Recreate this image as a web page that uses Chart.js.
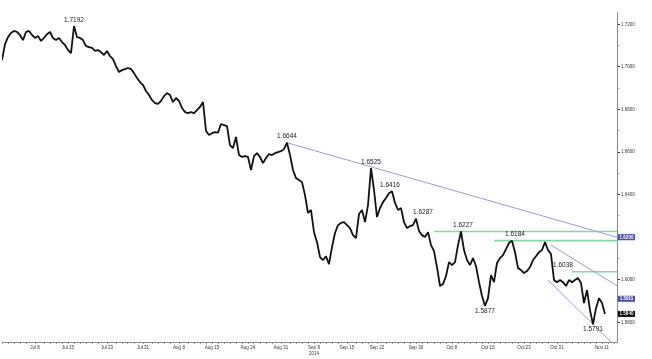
<!DOCTYPE html>
<html>
<head>
<meta charset="utf-8">
<script src="https://cdn.jsdelivr.net/npm/chart.js@4/dist/chart.umd.min.js"></script>
<style>
  body { margin: 0; background: #fff; }
  canvas { display: block; }
</style>
</head>
<body>
<canvas id="gbpChart" width="652" height="359"></canvas>
<script>
// GBP/USD, Jul - Nov 2014, one value every half trading day
var prices = [
  1.7032, 1.7107, 1.7140, 1.7159, 1.7169, 1.7164, 1.7150, 1.7126, 1.7164, 1.7169,
  1.7150, 1.7136, 1.7145, 1.7122, 1.7136, 1.7154, 1.7164, 1.7136, 1.7126, 1.7136,
  1.7117, 1.7103, 1.7079, 1.7065, 1.7192, 1.7140, 1.7136, 1.7126, 1.7098, 1.7093,
  1.7089, 1.7075, 1.7079, 1.7070, 1.7056, 1.7075, 1.7051, 1.7037, 1.7004, 1.6976,
  1.6985, 1.6990, 1.6995, 1.6990, 1.6971, 1.6948, 1.6929, 1.6915, 1.6887, 1.6868,
  1.6844, 1.6830, 1.6826, 1.6840, 1.6863, 1.6877, 1.6868, 1.6835, 1.6854, 1.6840,
  1.6807, 1.6788, 1.6783, 1.6788, 1.6783, 1.6797, 1.6812, 1.6835, 1.6699, 1.6680,
  1.6689, 1.6694, 1.6691, 1.6732, 1.6727, 1.6722, 1.6633, 1.6619, 1.6671, 1.6586,
  1.6577, 1.6581, 1.6577, 1.6516, 1.6581, 1.6595, 1.6577, 1.6548, 1.6572, 1.6591,
  1.6586, 1.6595, 1.6600, 1.6604, 1.6614, 1.6644, 1.6586, 1.6516, 1.6478, 1.6469,
  1.6459, 1.6398, 1.6314, 1.6328, 1.6224, 1.6177, 1.6107, 1.6093, 1.6111, 1.6074,
  1.6154, 1.6220, 1.6257, 1.6267, 1.6271, 1.6257, 1.6243, 1.6210, 1.6196, 1.6309,
  1.6328, 1.6271, 1.6351, 1.6525, 1.6422, 1.6295, 1.6337, 1.6365, 1.6384, 1.6407,
  1.6416, 1.6361, 1.6328, 1.6337, 1.6271, 1.6243, 1.6252, 1.6257, 1.6287, 1.6229,
  1.6210, 1.6201, 1.6224, 1.6163, 1.6135, 1.6060, 1.5971, 1.5980, 1.6018, 1.6083,
  1.6069, 1.6083, 1.6163, 1.6227, 1.6140, 1.6093, 1.6069, 1.6102, 1.6065, 1.5989,
  1.5924, 1.5877, 1.5914, 1.6022, 1.5989, 1.6079, 1.6102, 1.6116, 1.6144, 1.6173,
  1.6184, 1.6130, 1.6055, 1.6046, 1.6032, 1.6041, 1.6060, 1.6093, 1.6111, 1.6130,
  1.6140, 1.6177, 1.6140, 1.6121, 1.5999, 1.5989, 1.5999, 1.5989, 1.5971, 1.5999,
  1.5989, 1.5999, 1.6008, 1.5985, 1.5891, 1.5952, 1.5858, 1.5791, 1.5867, 1.5914,
  1.5891, 1.5840
];
var lastSlot = 205;

// date labels on the bottom axis and the slot they sit on
var tickLabels = ['Jul 8', 'Jul 15', 'Jul 23', 'Jul 31', 'Aug 8', 'Aug 15', 'Aug 24', 'Aug 31',
  ['Sep 8', '2014'], 'Sep 15', 'Sep 22', 'Sep 30', 'Oct 8', 'Oct 15', 'Oct 23', 'Oct 31', 'Nov 11'];
var tickSlots = [11, 22, 35, 47, 59, 70, 82, 93, 104, 115, 125, 138, 150, 162, 174, 185, 200];

// swing highs / lows written on the chart
var swingText = ['1.7192', '1.6644', '1.6525', '1.6416', '1.6287', '1.6227', '1.6184', '1.6038', '1.5877', '1.5791'];
var swingSlot = [24, 95, 123, 130, 138, 153, 170, 187, 161, 197];
var swingValue = [1.7192, 1.6644, 1.6525, 1.6416, 1.6287, 1.6227, 1.6184, 1.6038, 1.5877, 1.5791];

// drawn lines: [start slot, start value, end slot, end value]
var trendLine = [95, 1.6644, 205, 1.6200];
var channelTop = [183, 1.6163, 205, 1.5972];
var channelLow = [182, 1.5999, 205, 1.5681];
var levelSlots = [144, 164, 190];
var levelValues = [1.6227, 1.6184, 1.6038];

// price boxes on the right axis
var boxValues = [1.6200, 1.5911, 1.5840];
var boxColors = ['#4d4fa3', '#4d4fa3', '#000000'];

function segment(a) {
  return [{ x: a[0], y: a[1] }, { x: a[2], y: a[3] }];
}

var datasets = [{
  data: prices.map(function(p, i) { return { x: i, y: p }; }),
  borderColor: '#111111',
  borderWidth: 1.8,
  borderJoinStyle: 'bevel',
  pointRadius: 0,
  tension: 0
}];
[trendLine, channelTop, channelLow].forEach(function(l) {
  datasets.push({ data: segment(l), borderColor: '#9a9ad6', borderWidth: 1, pointRadius: 0 });
});
levelValues.forEach(function(v, k) {
  datasets.push({ data: segment([levelSlots[k], v, lastSlot, v]), borderColor: '#86d6a6', borderWidth: 1.6, pointRadius: 0 });
});

var notes = {
  id: 'notes',
  afterDatasetsDraw: function(chart) {
    var c = chart.ctx, xs = chart.scales.x, ys = chart.scales.y;
    var nudge = { '1.6287': 7, '1.6184': 3, '1.6227': 2, '1.6416': -2 };
    c.save();
    c.font = '6.5px "Liberation Sans", Arial, sans-serif';
    c.fillStyle = '#222';
    c.textAlign = 'center';
    for (var i = 0; i < swingText.length; i++) {
      var px = xs.getPixelForValue(swingSlot[i]) + (nudge[swingText[i]] || 0);
      var py = ys.getPixelForValue(swingValue[i]);
      if (swingValue[i] < 1.59) {
        c.textBaseline = 'top';
        c.fillText(swingText[i], px, py + 2);
      } else {
        c.textBaseline = 'bottom';
        c.fillText(swingText[i], px, py - 3);
      }
    }
    c.restore();
  },
  afterDraw: function(chart) {
    var c = chart.ctx, ys = chart.scales.y, left = chart.chartArea.right + 1;
    c.save();
    c.font = 'bold 4.5px "Liberation Sans", Arial, sans-serif';
    c.textAlign = 'center';
    c.textBaseline = 'middle';
    boxValues.forEach(function(v, k) {
      var y = ys.getPixelForValue(v);
      c.fillStyle = boxColors[k];
      c.fillRect(left, y - 3, 17, 6);
      c.fillStyle = '#fff';
      c.fillText(v.toFixed(4), left + 8.5, y + 0.3);
    });
    c.restore();
  }
};

new Chart(document.getElementById('gbpChart'), {
  type: 'line',
  data: { datasets: datasets },
  plugins: [notes],
  options: {
    responsive: false,
    animation: false,
    layout: { padding: { top: 12, left: 2, right: 0, bottom: 0 } },
    plugins: { legend: { display: false }, tooltip: { enabled: false } },
    scales: {
      x: {
        type: 'linear',
        min: 0,
        max: lastSlot,
        afterBuildTicks: function(scale) {
          var t = [];
          for (var i = 0; i <= lastSlot; i += 2) {
            if (tickSlots.indexOf(i) < 0 && tickSlots.indexOf(i - 1) < 0 && tickSlots.indexOf(i + 1) < 0) t.push({ value: i });
          }
          tickSlots.forEach(function(s) { t.push({ value: s }); });
          t.sort(function(a, b) { return a.value - b.value; });
          scale.ticks = t;
        },
        afterFit: function(scale) { scale.height = 17; },
        ticks: {
          autoSkip: false,
          maxRotation: 0,
          padding: 1,
          color: '#333',
          font: { family: '"Liberation Sans", Arial, sans-serif', size: 4.5, lineHeight: 1.3 },
          callback: function(value) {
            var k = tickSlots.indexOf(value);
            return k >= 0 ? tickLabels[k] : '';
          }
        },
        grid: { drawOnChartArea: false, tickLength: 2, tickColor: '#999' },
        border: { color: '#8a8a8a', width: 1 }
      },
      y: {
        position: 'right',
        min: 1.5708,
        max: 1.7258,
        afterBuildTicks: function(scale) {
          var t = [];
          for (var v = 158; v <= 172; v++) t.push({ value: v / 100 });
          scale.ticks = t;
        },
        afterFit: function(scale) { scale.width = 35; },
        ticks: {
          padding: 1,
          color: '#333',
          font: { family: '"Liberation Sans", Arial, sans-serif', size: 4.5 },
          callback: function(value) {
            return Math.round(value * 100) % 2 === 0 ? value.toFixed(4) : '';
          }
        },
        grid: {
          drawOnChartArea: false,
          tickLength: 3,
          tickColor: function(ctx) {
            return ctx.tick && Math.round(ctx.tick.value * 100) % 2 === 0 ? '#333' : '#bbb';
          }
        },
        border: { color: '#8a8a8a', width: 1 }
      }
    }
  }
});
</script>
</body>
</html>
